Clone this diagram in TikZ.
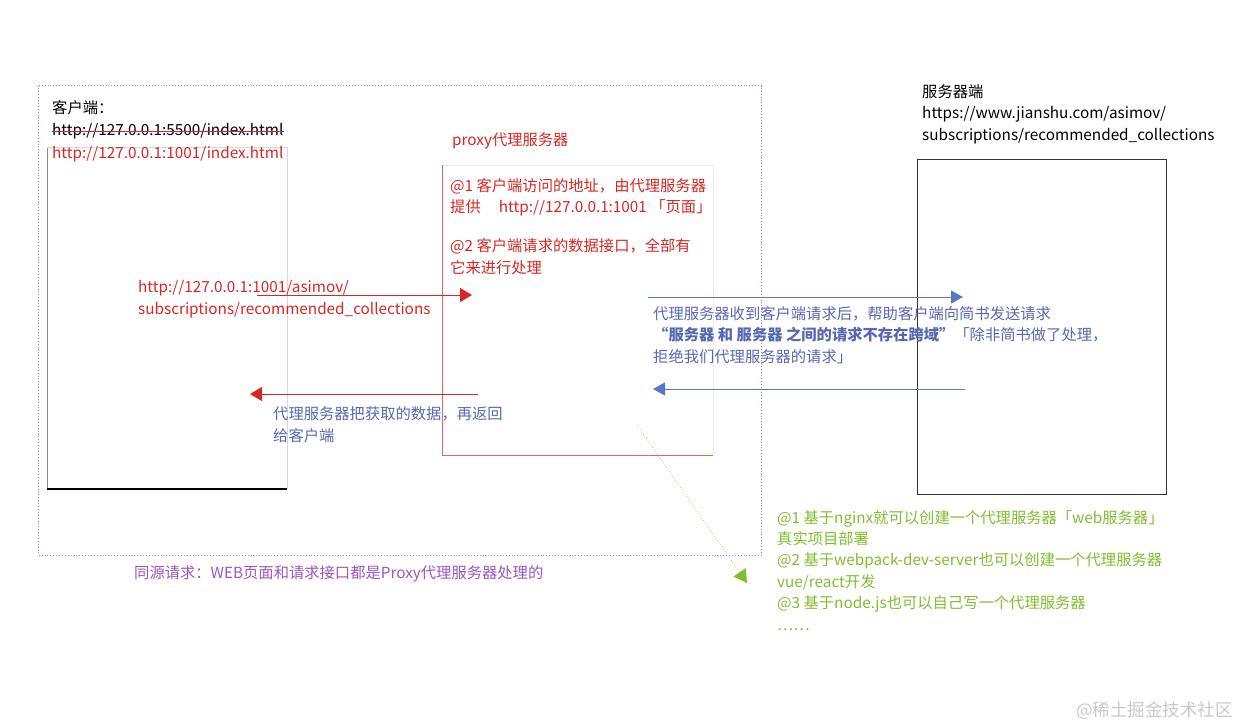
\documentclass[tikz,border=0pt]{standalone}
\usepackage{fontspec}
\setmainfont{Noto Sans CJK SC}
\usetikzlibrary{arrows.meta,positioning}
\definecolor{txtred}{RGB}{214,40,34}
\definecolor{boxred}{RGB}{226,100,94}
\definecolor{txtblue}{RGB}{86,104,178}
\definecolor{arrblue}{RGB}{92,118,198}
\definecolor{txtgreen}{RGB}{128,190,46}
\definecolor{lnkgreen}{RGB}{160,190,60}
\definecolor{txtpurple}{RGB}{158,84,196}
\definecolor{dotpurple}{RGB}{176,124,210}
\definecolor{wmgray}{RGB}{200,200,200}
\tikzset{
  % base of a multi-line label is its last line
  lbl/.style={anchor=base west,inner sep=0pt,align=left,
    font=\fontsize{15.3}{21.4}\selectfont},
  redarrow/.style={draw=txtred,line width=0.9pt,
    -{Triangle[length=12pt,width=14pt]}},
  bluearrow/.style={draw=arrblue,line width=0.9pt,
    -{Triangle[length=12pt,width=13pt]}},
  greenarrow/.style={draw=lnkgreen,dotted,line width=0.7pt,
    -{Triangle[length=13pt,width=15pt,fill=txtgreen,line width=0pt]}}
}
\begin{document}
\begin{tikzpicture}[x=1pt,y=-1pt]
  \useasboundingbox (0,0) rectangle (1241,726);

  % same-origin area
  \draw[dotpurple,dotted,line width=0.9pt] (38.5,85.5) rectangle (761.5,555);
  \node[lbl,txtpurple] (samenote) at (134,578)
    {同源请求：WEB页面和请求接口都是Proxy代理服务器处理的};

  % client
  \draw[black!45] (47,489) -- (47,147);
  \draw[black!15] (47,147) -- (287,147) -- (287,489);
  \draw[black,line width=1.1pt] (47,489) -- (287,489);
  \node[lbl] (clientname) at (52,113) {客户端：};
  \node[lbl] (oldurl) at (52,135) {http://127.0.0.1:5500/index.html};
  \draw[txtred,line width=0.6pt] ([yshift=-1pt]oldurl.west) -- ([yshift=-1pt]oldurl.east);
  \node[lbl,txtred] (newurl) at (52,158) {http://127.0.0.1:1001/index.html};

  % proxy
  \node[lbl,txtred] (proxyname) at (452,145) {proxy代理服务器};
  \draw[black!8] (442,165) -- (713,165) -- (713,455);
  \draw[boxred] (442,165) -- (442,455) -- (713,455);
  \node[lbl,txtred] (proxynote) at (450,273)
    {@1 客户端访问的地址，由代理服务器\\
     提供\hspace{18pt}http://127.0.0.1:1001 「页面」\\[17.5pt]
     @2 客户端请求的数据接口，全部有\\
     它来进行处理};

  % server
  \node[lbl] (servername) at (922,140)
    {服务器端\\https://www.jianshu.com/asimov/\\subscriptions/recommended\_collections};
  \draw[black!80] (917,159) rectangle (1166,494);

  % requests
  \node[lbl,txtred] (apiurl) at (138,314)
    {http://127.0.0.1:1001/asimov/\\subscriptions/recommended\_collections};
  \coordinate (reqA) at (257,295);
  \coordinate (reqB) at (472,295);
  \draw[redarrow] (reqA) -- (reqB);

  \coordinate (fwdA) at (648,297);
  \coordinate (fwdB) at (963,297);
  \draw[bluearrow] (fwdA) -- (fwdB);
  \node[lbl,txtblue] (fwdnote) at (653,362)
    {代理服务器收到客户端请求后，帮助客户端向简书发送请求\\
     {\bfseries “服务器 和 服务器 之间的请求不存在跨域”}「除非简书做了处理，\\
     拒绝我们代理服务器的请求」};

  \coordinate (backA) at (965,389);
  \coordinate (backB) at (653,389);
  \draw[bluearrow] (backA) -- (backB);

  \coordinate (resA) at (478,394);
  \coordinate (resB) at (250,394);
  \draw[redarrow] (resA) -- (resB);
  \node[lbl,txtblue] (resnote) at (273,441)
    {代理服务器把获取的数据，再返回\\给客户端};

  % ways to build a proxy
  \node[lbl,txtgreen] (waysnote) at (777,630)
    {@1 基于nginx就可以创建一个代理服务器「web服务器」\\
     真实项目部署\\
     @2 基于webpack-dev-server也可以创建一个代理服务器\\
     vue/react开发\\
     @3 基于node.js也可以自己写一个代理服务器\\
     ……};
  \coordinate (wayA) at (637,425);
  \coordinate (wayB) at (747,583);
  \draw[greenarrow] (wayA) -- (wayB);

  \node[lbl,wmgray,font=\fontsize{17.5}{20}\selectfont] (mark) at (1076,716) {@稀土掘金技术社区};
\end{tikzpicture}
\end{document}
